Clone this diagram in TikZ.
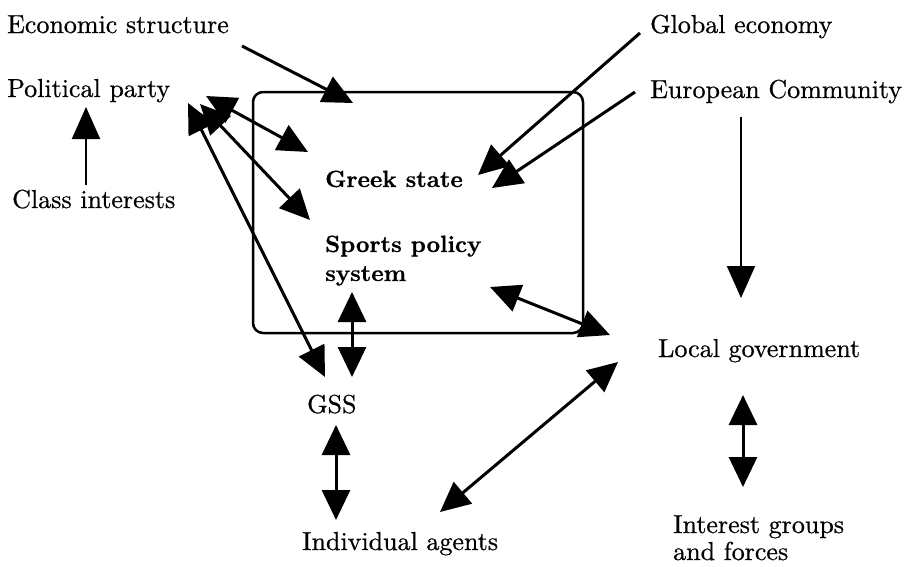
\documentclass[tikz,border=0pt]{standalone}
\usepackage{fontspec}
\setmainfont{lmroman10-regular.otf}[BoldFont=lmroman10-bold.otf, FakeBold=0.6]
\usetikzlibrary{arrows.meta}
\begin{document}
\begin{tikzpicture}[x=1pt,y=-1pt,
  lbl/.style={anchor=base west,inner sep=0pt,font=\fontsize{26}{28}\selectfont},
  blbl/.style={lbl,font=\fontsize{23.5}{28}\selectfont\bfseries},
  arr/.style={line width=3pt,-{Triangle[length=30pt,width=28pt]}},
  darr/.style={line width=3pt,{Triangle[length=30pt,width=28pt]}-{Triangle[length=30pt,width=28pt]}},
  tarr/.style={line width=2pt,-{Triangle[length=32pt,width=28pt]}},
  frame/.style={draw,line width=2.5pt,rounded corners=10pt}]
\useasboundingbox (0,0) rectangle (911,566);
% texts
\node[lbl] (econ) at (7,33) {Economic structure};
\node[lbl] (party) at (7,97) {Political party};
\node[lbl] (class) at (12,208) {Class interests};
\node[lbl] (global) at (650,33) {Global economy};
\node[lbl] (ec) at (650,98) {European Community};
\node[blbl] (greek) at (325,187) {Greek state};
\node[blbl] (sports) at (325,252) {Sports policy};
\node[blbl] (sports2) at (325,281) {system};
\node[lbl] (gss) at (307,413) {GSS};
\node[lbl] (ind) at (302,550) {Individual agents};
\node[lbl] (local) at (658,357) {Local government};
\node[lbl] (interest) at (673,533) {Interest groups};
\node[lbl] (interest2) at (673,560) {and forces};
% frame
\draw[frame] (253,92) rectangle (583,333);
% coordinates
\coordinate (econS) at (242,46);   \coordinate (econT) at (353,103);
\coordinate (globS) at (640,33);   \coordinate (globT) at (478,175);
\coordinate (ecS) at (635,92);     \coordinate (ecT) at (492,188);
\coordinate (ecdS) at (741,117);   \coordinate (ecdT) at (741,298);
\coordinate (clS) at (86,185);     \coordinate (clT) at (86,107);
\coordinate (pa1) at (206,96);     \coordinate (gs1) at (308,152);
\coordinate (pa2) at (200,104);    \coordinate (sp1) at (310,220);
\coordinate (pa3) at (188,103);    \coordinate (gss1) at (325,377);
\coordinate (sp2) at (490,287);    \coordinate (lg1) at (610,335);
\coordinate (bx1) at (352,292);    \coordinate (gss2) at (352,377);
\coordinate (gss3) at (336,425);   \coordinate (ind1) at (336,520);
\coordinate (lg2) at (618,362);    \coordinate (ind2) at (440,512);
\coordinate (lg3) at (743,395);    \coordinate (ig1) at (743,487);
% connectors
\draw[arr] (econS) -- (econT);
\draw[arr] (globS) -- (globT);
\draw[arr] (ecS) -- (ecT);
\draw[tarr] (ecdS) -- (ecdT);
\draw[tarr] (clS) -- (clT);
\draw[darr] (pa1) -- (gs1);
\draw[darr] (pa2) -- (sp1);
\draw[darr] (pa3) -- (gss1);
\draw[darr] (sp2) -- (lg1);
\draw[darr] (bx1) -- (gss2);
\draw[darr] (gss3) -- (ind1);
\draw[darr] (lg2) -- (ind2);
\draw[darr] (lg3) -- (ig1);
\end{tikzpicture}
\end{document}
